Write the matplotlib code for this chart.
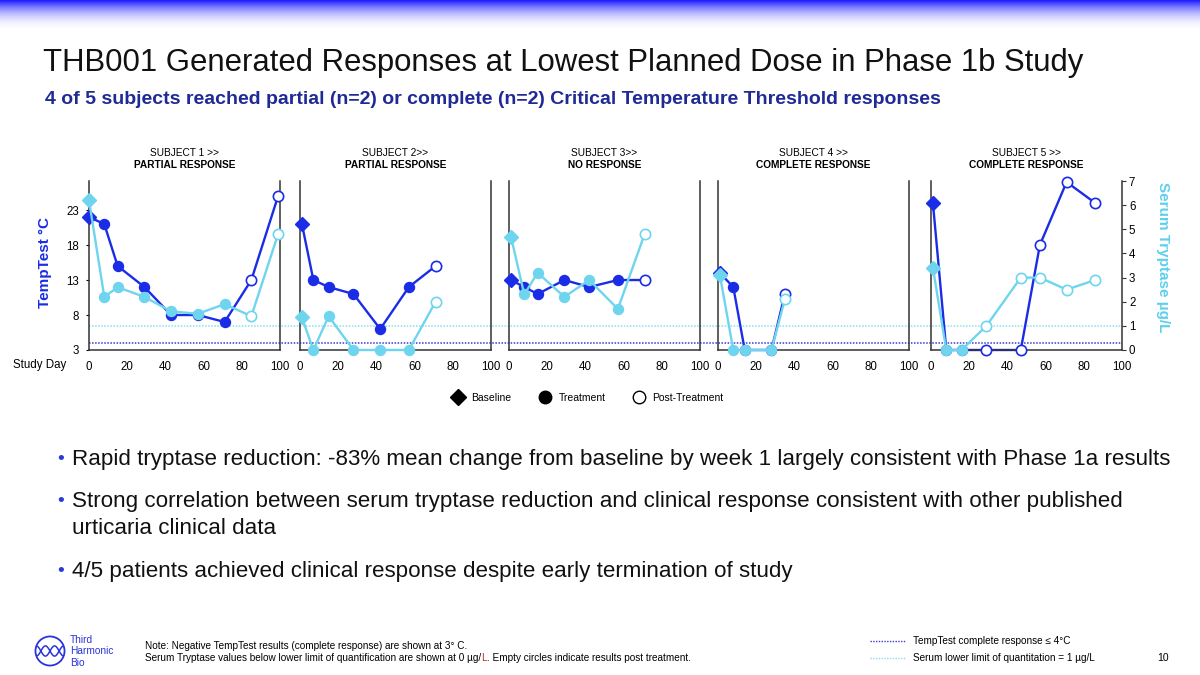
import numpy as np
import matplotlib.pyplot as plt
from matplotlib.lines import Line2D
from matplotlib.patches import Circle

plt.rcParams['font.family'] = ['Liberation Sans', 'DejaVu Sans']

W, H = 1200, 675
DARK = '#1a2ce6'
CYAN = '#6fd5ef'
NAVY = '#1f2a96'

# chart data
subjects = ['SUBJECT 1 >>', 'SUBJECT 2>>', 'SUBJECT 3>>', 'SUBJECT 4 >>', 'SUBJECT 5 >>']
responses = ['PARTIAL RESPONSE', 'PARTIAL RESPONSE', 'NO RESPONSE',
             'COMPLETE RESPONSE', 'COMPLETE RESPONSE']

s1_days = [0, 8, 15, 29, 43, 57, 71, 85, 99]
s1_temp = [22, 21, 15, 12, 8, 8, 7, 13, 25]
s1_tryp = [6.2, 2.2, 2.6, 2.2, 1.6, 1.5, 1.9, 1.4, 4.8]
s1_phase = 'BTTTTTTPP'

s2_days = [1, 7, 15, 28, 42, 57, 71]
s2_temp = [21, 13, 12, 11, 6, 12, 15]
s2_tryp = [1.35, 0, 1.4, 0, 0, 0, 2.0]
s2_phase = 'BTTTTTP'

s3_days = [1, 8, 15, 29, 42, 57, 71]
s3_temp = [13, 12, 11, 13, 12, 13, 13]
s3_tryp = [4.7, 2.3, 3.2, 2.2, 2.9, 1.7, 4.8]
s3_phase = 'BTTTTTP'

s4_days = [1, 8, 14, 28, 35]
s4_temp = [14, 12, 3, 3, 11]
s4_tryp = [3.1, 0, 0, 0, 2.1]
s4_phase = 'BTTTP'

s5_days = [1, 8, 16, 29, 47, 57, 71, 86]
s5_temp = [24, 3, 3, 3, 3, 18, 27, 24]
s5_tryp = [3.4, 0, 0, 1.0, 3.0, 3.0, 2.5, 2.9]
s5_phase = 'BTTPPPPP'

all_days = [s1_days, s2_days, s3_days, s4_days, s5_days]
all_temp = [s1_temp, s2_temp, s3_temp, s4_temp, s5_temp]
all_tryp = [s1_tryp, s2_tryp, s3_tryp, s4_tryp, s5_tryp]
all_phase = [s1_phase, s2_phase, s3_phase, s4_phase, s5_phase]

temp_cr = 4        # TempTest complete response threshold
tryp_lloq = 1      # serum lower limit of quantitation
temp_lim = (3, 27.15)
tryp_lim = (0, 7)
day_ticks = [0, 20, 40, 60, 80, 100]
temp_ticks = [3, 8, 13, 18, 23]
tryp_ticks = [0, 1, 2, 3, 4, 5, 6, 7]

bullets = [
    ['Rapid tryptase reduction: -83% mean change from baseline by week 1 largely consistent with Phase 1a results'],
    ['Strong correlation between serum tryptase reduction and clinical response consistent with other published',
     'urticaria clinical data'],
    ['4/5 patients achieved clinical response despite early termination of study'],
]
bullet_y = [459, 501, 571]
line_gap = 27


def rect(x0, y0, x1, y1):
    # pixel box (top-left origin) -> figure fraction
    return [x0 / W, 1 - y1 / H, (x1 - x0) / W, (y1 - y0) / H]


fig = plt.figure(figsize=(12, 6.75), dpi=100)

# top gradient band
gax = fig.add_axes(rect(0, 0, W, 32))
grad = np.zeros((64, 2, 4))
grad[..., 0] = 0.1
grad[..., 1] = 0.1
grad[..., 2] = 1.0
grad[..., 3] = (1 - np.linspace(0, 1, 64))[:, None] ** 2.2
gax.imshow(grad, aspect='auto', extent=[0, 1, 0, 1])
gax.axis('off')

fig.text(43 / W, 1 - 63 / H, 'THB001 Generated Responses at Lowest Planned Dose in Phase 1b Study',
         fontsize=22.4, va='center', color='#111111')
fig.text(45 / W, 1 - 99 / H,
         '4 of 5 subjects reached partial (n=2) or complete (n=2) Critical Temperature Threshold responses',
         fontsize=14, fontweight='bold', va='center', color=NAVY)

# reference lines across all panels
ov = fig.add_axes(rect(89, 181, 1122, 350))
ov.set_ylim(temp_lim)
ov.axhline(temp_cr, color='#3a3ac8', ls=(0, (1, 1)), lw=1.1)
ov.axis('off')
ov2 = ov.twinx()
ov2.set_ylim(tryp_lim)
ov2.axhline(tryp_lloq, color='#8fdcf0', ls=(0, (1, 1)), lw=1.1)
ov2.axis('off')

lefts = [89, 300, 509, 718, 931]
pw = 191


def draw(ax, d, v, ph, color):
    ax.plot(d, v, color=color, lw=1.7, zorder=2, clip_on=False)
    for x, y, p in zip(d, v, ph):
        if p == 'B':
            ax.plot(x, y, marker='D', ms=7, color=color, zorder=3, clip_on=False)
        elif p == 'T':
            ax.plot(x, y, marker='o', ms=7.2, color=color, zorder=3, clip_on=False)
        else:
            ax.plot(x, y, marker='o', ms=7.4, mfc='white', mec=color, mew=1.2,
                    zorder=3, clip_on=False)


for i in range(5):
    ax = fig.add_axes(rect(lefts[i], 181, lefts[i] + pw, 350))
    ax.patch.set_visible(False)
    ax.set_xlim(0, 100)
    ax.set_ylim(temp_lim)
    ax.spines['top'].set_visible(False)
    for s in ['left', 'right', 'bottom']:
        ax.spines[s].set_color('#333333')
        ax.spines[s].set_linewidth(1.1)
    ax.set_xticks(day_ticks)
    ax.tick_params(axis='x', length=0, pad=8, labelsize=8.3)
    if i == 0:
        ax.set_yticks(temp_ticks)
        ax.tick_params(axis='y', length=2, pad=5, labelsize=8.3)
    else:
        ax.set_yticks([])

    tx = ax.twinx()
    tx.set_ylim(tryp_lim)
    for s in tx.spines.values():
        s.set_visible(False)
    if i == 4:
        tx.set_yticks(tryp_ticks)
        tx.tick_params(axis='y', length=3, pad=2, labelsize=8.3, color='#333333')
    else:
        tx.set_yticks([])

    draw(ax, all_days[i], all_temp[i], all_phase[i], DARK)
    draw(tx, all_days[i], all_tryp[i], all_phase[i], CYAN)

    cx = (lefts[i] + pw / 2) / W
    fig.text(cx, 1 - 153 / H, subjects[i], fontsize=7.3, ha='center', va='center')
    fig.text(cx, 1 - 165 / H, responses[i], fontsize=7.3, fontweight='bold', ha='center', va='center')

fig.text(66 / W, 1 - 365 / H, 'Study Day', fontsize=8.3, ha='right', va='center')
fig.text(45 / W, 1 - 262 / H, 'TempTest °C', fontsize=11, fontweight='bold', color=DARK,
         rotation=90, ha='center', va='center')
fig.text(1163 / W, 1 - 257 / H, 'Serum Tryptase µg/L', fontsize=11, fontweight='bold', color='#5dcfee',
         rotation=270, ha='center', va='center')

# marker legend
handles = [Line2D([], [], ls='none', marker='D', ms=8, color='black'),
           Line2D([], [], ls='none', marker='o', ms=9, color='black'),
           Line2D([], [], ls='none', marker='o', ms=9, mfc='white', mec='black', mew=1)]
fig.legend(handles, ['Baseline', 'Treatment', 'Post-Treatment'], loc='center',
           bbox_to_anchor=(588 / W, 1 - 398 / H), ncol=3, frameon=False, fontsize=7.5,
           handletextpad=0.8, columnspacing=2.7, handlelength=1)

# bullets
for y, lines in zip(bullet_y, bullets):
    fig.text(57 / W, 1 - y / H, '•', fontsize=14, color='#2a3bd6', va='center')
    for k, ln in enumerate(lines):
        fig.text(72 / W, 1 - (y + k * line_gap) / H, ln, fontsize=16.1, va='center', color='#111111')

# footer
fig.text(145 / W, 1 - 646 / H, 'Note: Negative TempTest results (complete response) are shown at 3° C.',
         fontsize=7.2, va='center')
t1 = fig.text(145 / W, 1 - 658 / H,
              'Serum Tryptase values below lower limit of quantification are shown at 0 µg/',
              fontsize=7.2, va='center')
a2 = plt.annotate('L', xy=(1, 0.5), xycoords=t1, va='center', ha='left',
                  fontsize=7.2, color='#cc2222')
plt.annotate('. Empty circles indicate results post treatment.', xy=(1, 0.5), xycoords=a2,
             va='center', ha='left', fontsize=7.2)

fig.add_artist(Line2D([870 / W, 905 / W], [1 - 641 / H] * 2, ls=(0, (1, 1)), color='#3a3ac8', lw=1))
fig.add_artist(Line2D([870 / W, 905 / W], [1 - 658 / H] * 2, ls=(0, (1, 1)), color='#8fdcf0', lw=1))
fig.text(913 / W, 1 - 641 / H, 'TempTest complete response ≤ 4°C', fontsize=7.2, va='center')
fig.text(913 / W, 1 - 658 / H, 'Serum lower limit of quantitation = 1 µg/L', fontsize=7.2, va='center')
fig.text(1163 / W, 1 - 658 / H, '10', fontsize=7.5, ha='center', va='center')

# logo
lax = fig.add_axes(rect(33, 635, 67, 667))
lax.set_xlim(-1.1, 1.1)
lax.set_ylim(-1.1, 1.1)
lax.set_aspect('equal')
lax.add_patch(Circle((0, 0), 1, fill=False, ec='#2a35d8', lw=1.3))
xs = np.linspace(-0.85, 0.85, 60)
for ph in [0, np.pi]:
    lax.plot(xs, 0.35 * np.sin(xs * 5 + ph), color='#2a35d8', lw=1.1)
lax.axis('off')
for k, word in enumerate(['Third', 'Harmonic', 'Bio']):
    fig.text(70 / W, 1 - (640 + 11.5 * k) / H, word, fontsize=7.3, color='#2a35d8',
             va='center')

fig.savefig('out.png', dpi=100)
